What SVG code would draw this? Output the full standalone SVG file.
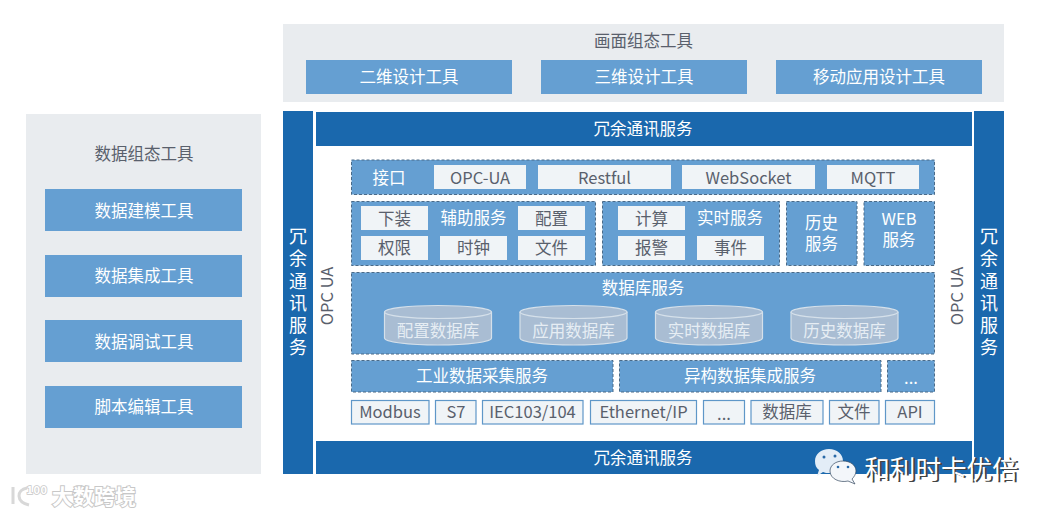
<svg xmlns="http://www.w3.org/2000/svg" width="1053" height="515" viewBox="0 0 1053 515">
<style>
text{font-family:"Noto Sans CJK SC","Noto Sans",sans-serif;font-size:16.500px;text-anchor:middle;dominant-baseline:central}
.panel{fill:#e9ecef}.dark{fill:#1a68ad}.mid{fill:#659fd2}
.dash{fill:#659fd2;stroke:#4a6a88;stroke-width:1;stroke-dasharray:3 2}
.lt{fill:#f0f4f7}.proto{fill:#f0f4f7;stroke:#5f97c8;stroke-width:1.2}
.w{fill:#fff}.g{fill:#59606c}
.cyl{fill:#a9bdd3;stroke:#d5e0ea;stroke-width:1.2}
.cylt{fill:#e6edf3}
.vert{writing-mode:vertical-rl;font-size:18px;letter-spacing:4.200px;fill:#fff}
.wm{fill:#fff;stroke:#c8c8c8;stroke-width:2;paint-order:stroke;font-weight:700}
</style>
<rect width="1053" height="515" fill="#fff"/>
<g id="canvas-tools">
<rect class="panel" x="283" y="24" width="721" height="78"/>
<text class="g" x="643.500" y="40">画面组态工具</text>
<rect class="mid" x="306" y="60" width="206" height="34"/><text class="w" x="409" y="76">二维设计工具</text>
<rect class="mid" x="541" y="60" width="206" height="34"/><text class="w" x="644" y="76">三维设计工具</text>
<rect class="mid" x="776" y="60" width="206" height="34"/><text class="w" x="879" y="76">移动应用设计工具</text>
</g>
<g id="data-tools">
<rect class="panel" x="26" y="114" width="235" height="360"/>
<text class="g" x="144" y="153">数据组态工具</text>
<rect class="mid" x="45" y="189" width="197" height="42"/><text class="w" x="144" y="210">数据建模工具</text>
<rect class="mid" x="45" y="255" width="197" height="42"/><text class="w" x="144" y="275">数据集成工具</text>
<rect class="mid" x="45" y="320" width="197" height="42"/><text class="w" x="144" y="341">数据调试工具</text>
<rect class="mid" x="45" y="386" width="197" height="42"/><text class="w" x="144" y="406">脚本编辑工具</text>
</g>
<g id="redundant-comm">
<rect class="dark" x="283" y="111" width="30" height="363"/>
<text class="vert" x="298" y="294">冗余通讯服务</text>
<rect class="dark" x="974" y="111" width="30" height="363"/>
<text class="vert" x="989" y="294">冗余通讯服务</text>
<rect class="dark" x="316" y="112" width="656" height="34"/><text class="w" x="643" y="128">冗余通讯服务</text>
<rect class="dark" x="316" y="441" width="656" height="33"/><text class="w" x="643" y="457">冗余通讯服务</text>
</g>
<g id="opc-ua">
<text class="g" transform="translate(325.500 296) rotate(-90)">OPC UA</text>
<text class="g" transform="translate(955.500 296) rotate(-90)">OPC UA</text>
</g>
<g id="interface">
<rect class="dash" x="351.500" y="160" width="583" height="34.500"/>
<text class="w" x="389" y="176.500">接口</text>
<rect class="lt" x="434" y="165" width="92" height="24"/><text class="g" x="480" y="176.500">OPC-UA</text>
<rect class="lt" x="538" y="165" width="133" height="24"/><text class="g" x="604.500" y="176.500">Restful</text>
<rect class="lt" x="682" y="165" width="133" height="24"/><text class="g" x="748.500" y="176.500">WebSocket</text>
<rect class="lt" x="827" y="165" width="92" height="24"/><text class="g" x="873" y="176.500">MQTT</text>
</g>
<g id="aux-service">
<rect class="dash" x="351.500" y="201.500" width="244" height="64"/>
<text class="w" x="473.500" y="217">辅助服务</text>
<rect class="lt" x="361" y="206" width="67" height="24"/><text class="g" x="394.500" y="217.500">下装</text>
<rect class="lt" x="518" y="206" width="67" height="24"/><text class="g" x="551.500" y="217.500">配置</text>
<rect class="lt" x="361" y="236" width="67" height="24"/><text class="g" x="394.500" y="247">权限</text>
<rect class="lt" x="440" y="236" width="67" height="24"/><text class="g" x="473.500" y="247">时钟</text>
<rect class="lt" x="518" y="236" width="67" height="24"/><text class="g" x="551.500" y="247">文件</text>
</g>
<g id="realtime-service">
<rect class="dash" x="602.500" y="201.500" width="177" height="64"/>
<text class="w" x="730" y="217">实时服务</text>
<rect class="lt" x="618" y="206" width="67" height="24"/><text class="g" x="651.500" y="217.500">计算</text>
<rect class="lt" x="618" y="236" width="67" height="24"/><text class="g" x="651.500" y="247">报警</text>
<rect class="lt" x="697" y="236" width="67" height="24"/><text class="g" x="730.500" y="247">事件</text>
</g>
<g id="history-service">
<rect class="dash" x="786.500" y="201.500" width="70.500" height="64"/>
<text class="w"><tspan x="821.500" y="222">历史</tspan><tspan x="821.500" y="243">服务</tspan></text>
</g>
<g id="web-service">
<rect class="dash" x="864" y="201.500" width="70.500" height="64"/>
<text class="w"><tspan x="899" y="218">WEB</tspan><tspan x="899" y="239">服务</tspan></text>
</g>
<g id="db-service">
<rect class="dash" x="351.500" y="272.500" width="583" height="81.500"/>
<text class="w" x="643" y="287">数据库服务</text>
<defs><g id="cyl">
<path class="cyl" d="M0 7V33C0 37 24 40 53.500 40S107 37 107 33V7"/>
<ellipse class="cyl" cx="53.500" cy="7" rx="53.500" ry="6.500"/>
</g></defs>
<use href="#cyl" x="384.500" y="305"/><text class="cylt" x="438" y="330">配置数据库</text>
<use href="#cyl" x="520" y="305"/><text class="cylt" x="573.500" y="330">应用数据库</text>
<use href="#cyl" x="655.500" y="305"/><text class="cylt" x="709" y="330">实时数据库</text>
<use href="#cyl" x="791" y="305"/><text class="cylt" x="844.500" y="330">历史数据库</text>
</g>
<g id="collect-services">
<rect class="dash" x="351.500" y="360.500" width="261.500" height="31.500"/><text class="w" x="482" y="375">工业数据采集服务</text>
<rect class="dash" x="619.500" y="360.500" width="261.500" height="31.500"/><text class="w" x="750" y="375">异构数据集成服务</text>
<rect class="dash" x="887.500" y="360.500" width="47" height="31.500"/><text class="w" x="911" y="377">...</text>
</g>
<g id="protocols">
<rect class="proto" x="351.500" y="400.500" width="77.500" height="23.500"/><text class="g" x="390" y="411">Modbus</text>
<rect class="proto" x="435.500" y="400.500" width="40.500" height="23.500"/><text class="g" x="456" y="411">S7</text>
<rect class="proto" x="482.500" y="400.500" width="100.500" height="23.500"/><text class="g" x="532.500" y="411">IEC103/104</text>
<rect class="proto" x="590.500" y="400.500" width="106" height="23.500"/><text class="g" x="643.500" y="411">Ethernet/IP</text>
<rect class="proto" x="703.500" y="400.500" width="41" height="23.500"/><text class="g" x="724" y="413">...</text>
<rect class="proto" x="751" y="400.500" width="72" height="23.500"/><text class="g" x="787" y="411">数据库</text>
<rect class="proto" x="829.500" y="400.500" width="49.500" height="23.500"/><text class="g" x="854" y="411">文件</text>
<rect class="proto" x="885.500" y="400.500" width="49" height="23.500"/><text class="g" x="910" y="411">API</text>
</g>
<g id="wechat-watermark">
<path d="M829 449C837 449 843 454 843 461C843 468 837 473 829 473C827 473 825 473 823 472L817 476L819 470C816 468 815 465 815 461C815 454 821 449 829 449Z" fill="#e3edf7"/>
<path d="M843 461C850 461 856 465 856 471C856 474 854 477 852 479L855 484L848 481C840 483 830 479 830 471C830 465 836 461 843 461Z" fill="#f3f6fa" stroke="#33475f" stroke-width=".7"/>
<circle cx="824" cy="457" r="1.500" fill="#2a6aa8"/><circle cx="835" cy="456" r="1.500" fill="#2a6aa8"/>
<circle cx="838" cy="467" r="1.300" fill="#2a6aa8"/><circle cx="848" cy="467" r="1.300" fill="#2a6aa8"/>
<text x="942" y="467" style="font-size:25.600px" fill="#444" dx="1" dy="1">和利时卡优倍</text>
<text x="941" y="467" style="font-size:25.600px" fill="#fff">和利时卡优倍</text>
</g>
<g id="logo-watermark">
<path d="M13 487V504M27 488C16 490 16 502 29 505" fill="none" stroke="#d8d8d8" stroke-width="3"/>
<text class="wm" x="37" y="489" style="font-size:11px;stroke-width:1.500;letter-spacing:.5px">100</text>
<text class="wm" x="94" y="495" style="font-size:21px">大数跨境</text>
</g>
</svg>
